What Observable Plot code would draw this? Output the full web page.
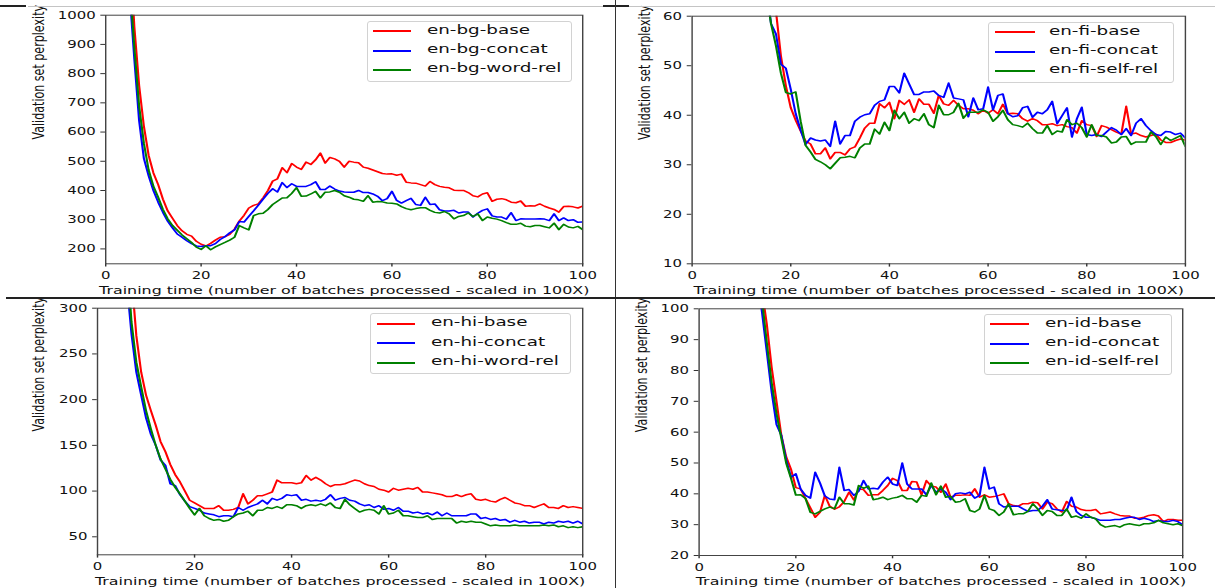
<!DOCTYPE html>
<html>
<head>
<meta charset="utf-8">
<script src="https://cdn.jsdelivr.net/npm/d3@7"></script>
<script src="https://cdn.jsdelivr.net/npm/@observablehq/plot@0.6"></script>
<style>
  html, body { margin: 0; padding: 0; background: #fff; }
  body { position: relative; width: 1215px; height: 588px; overflow: hidden; font-family: "DejaVu Sans", sans-serif; }
  .panel { position: absolute; }
  .deco { position: absolute; }
  .legend-box { position: absolute; box-sizing: border-box; background: rgba(255,255,255,0.9); border: 1px solid #d2d2d2; border-radius: 3px; }
  .legend-swatch { position: absolute; }
  .legend-text { position: absolute; white-space: nowrap; line-height: 1; color: #111; transform-origin: 0 0; font-family: "DejaVu Sans", sans-serif; }
</style>
</head>
<body>
<script>
// ---------------- data ----------------
const xTicks = [0, 20, 40, 60, 80, 100];
const xLabel = "Training time (number of batches processed - scaled in 100X)";
const yLabel = "Validation set perplexity";
const seriesColors = ["red", "blue", "green"];

// en-bg (x = 5 .. 100)
const bgStart = 5;
const bgNames = ["en-bg-base", "en-bg-concat", "en-bg-word-rel"];
const bgYTicks = [200, 300, 400, 500, 600, 700, 800, 900, 1000];
const bgBase = [1250, 960, 760, 620, 520, 460, 420, 370, 330, 305,
  280, 262, 250, 244, 226, 216, 210, 219, 230, 240,
  242, 250, 268, 295, 315, 340, 349, 354, 375, 400,
  432, 440, 478, 461, 492, 480, 472, 497, 489, 505,
  528, 494, 513, 508, 500, 480, 500, 497, 495, 480,
  476, 470, 464, 458, 456, 457, 452, 456, 428, 426,
  425, 420, 415, 431, 420, 414, 411, 409, 401, 400,
  400, 393, 382, 378, 388, 392, 363, 370, 372, 368,
  360, 358, 364, 346, 348, 347, 354, 346, 340, 335,
  326, 345, 346, 344, 340, 347];
const bgConcat = [1080, 850, 640, 510, 450, 400, 360, 325, 295, 272,
  251, 240, 228, 218, 210, 208, 211, 211, 218, 232,
  242, 255, 265, 294, 292, 311, 330, 350, 370, 390,
  406, 395, 427, 410, 423, 414, 414, 414, 420, 430,
  403, 403, 415, 405, 398, 395, 394, 394, 400, 393,
  393, 388, 380, 365, 372, 397, 366, 357, 365, 373,
  352, 349, 377, 352, 354, 334, 330, 330, 332, 323,
  326, 326, 309, 322, 332, 337, 313, 309, 309, 302,
  324, 297, 303, 302, 302, 302, 303, 302, 297, 320,
  297, 306, 297, 300, 291, 292];
const bgWordRel = [1120, 890, 690, 562, 470, 415, 377, 335, 303, 280,
  264, 248, 235, 222, 206, 198, 211, 197, 207, 215,
  222, 230, 240, 280, 272, 265, 314, 320, 322, 335,
  352, 363, 374, 375, 390, 410, 380, 381, 388, 397,
  375, 394, 395, 400, 394, 382, 377, 370, 368, 363,
  382, 360, 362, 361, 357, 356, 354, 345, 338, 334,
  338, 341, 341, 332, 325, 323, 328, 320, 303, 311,
  314, 323, 311, 320, 297, 309, 305, 302, 297, 290,
  284, 284, 288, 278, 276, 280, 280, 276, 272, 288,
  266, 284, 275, 272, 277, 266];

// en-fi (x = 15 .. 100)
const fiStart = 15;
const fiNames = ["en-fi-base", "en-fi-concat", "en-fi-self-rel"];
const fiYTicks = [10, 20, 30, 40, 50, 60];
const fiBase = [75, 68, 61, 52, 46, 41.5, 39, 36.8, 34.8, 34.2,
  32.2, 32.2, 33.4, 31.2, 32.5, 32.5, 32, 33.2, 33.6, 35.4,
  37.4, 38.4, 38.4, 42.3, 41.5, 42.6, 39.3, 43, 42.2, 43.1,
  40.6, 43.3, 42.2, 42.2, 40.4, 44, 42.3, 42, 43, 42,
  41.3, 41.3, 41, 40.3, 41, 40.4, 41.1, 40.3, 42.2, 40.3,
  40.4, 40.3, 39.3, 38.8, 39.3, 38.9, 38.1, 38.1, 38.3, 37.9,
  38.1, 37.7, 37.5, 36.4, 38.9, 38.1, 37.9, 35.7, 37.9, 37.6,
  37.1, 36.6, 36.2, 41.8, 36.2, 36.4, 35.9, 35.6, 35.9, 36.2,
  35, 34.5, 34.5, 34.9, 35.2, 35];
const fiConcat = [66, 58.5, 56.4, 50.3, 49.5, 45.2, 40.3, 37, 34.1, 35.4,
  35, 34.8, 35, 33.7, 38.8, 34.2, 35.9, 35.9, 38.8, 39.6,
  40.1, 40.3, 42, 42.8, 43.1, 45.8, 45.8, 44.5, 48.5, 46.3,
  44.2, 44.2, 44.7, 44.7, 44.9, 44, 43.6, 46.5, 43.5, 43.3,
  43.1, 39.7, 43.5, 41.1, 41.3, 45.7, 41.1, 44, 44.3, 40.3,
  39.7, 39.9, 41.5, 41.8, 39.6, 40.6, 40.3, 41.1, 42.8, 38.3,
  39.9, 41.5, 35.6, 39.3, 41.6, 36.1, 35.9, 36.1, 35.7, 36.6,
  37.5, 37, 36.1, 37.3, 35.9, 38.4, 39.3, 37.9, 36.9, 36.1,
  35.9, 36.7, 36.6, 36.1, 36.4, 35.4];
const fiSelfRel = [65, 58.5, 54, 48.5, 44.6, 44.3, 44.7, 38.8, 33.9, 32.6,
  31.1, 30.6, 30, 29.2, 30.3, 31.4, 31.5, 31.7, 31.4, 33.4,
  34.2, 34.2, 37.2, 36.2, 38.6, 36.9, 41, 39.3, 40.6, 38.4,
  39.3, 38.9, 40.3, 38.1, 37.5, 42, 40.1, 40.1, 40.6, 42.4,
  39.4, 40.6, 40.6, 40.6, 41.1, 40.6, 38.8, 39.7, 41, 39.1,
  38.1, 37.9, 37.6, 38.4, 37.3, 36.4, 36.4, 37.9, 36.1, 36.8,
  36.6, 39.1, 38.1, 38.4, 37.5, 35.6, 38.1, 35.9, 35.9, 35.6,
  34.4, 34.6, 35.6, 35.7, 34.1, 34.6, 34.6, 34.6, 36.6, 35.7,
  34.1, 35.6, 34.9, 35.4, 35.9, 33.7];

// en-hi (x = 6 .. 100)
const hiStart = 6;
const hiNames = ["en-hi-base", "en-hi-concat", "en-hi-word-rel"];
const hiYTicks = [50, 100, 150, 200, 250, 300];
const hiBase = [400, 335, 270, 230, 205, 188, 172, 154, 143, 129,
  118, 110, 100, 90, 87, 84, 81, 81, 81, 84,
  79, 79, 80, 82, 97, 86, 90, 95, 95, 97,
  99, 112, 109, 109, 109, 108, 109, 117, 112, 115,
  112, 108, 105, 107, 107, 108, 110, 112, 111, 108,
  106, 105, 102, 101, 99, 103, 101, 102, 103, 102,
  104, 99, 99, 98, 97, 96, 94, 94, 96, 94,
  96, 97, 91, 90, 91, 89, 88, 91, 93, 90,
  87, 86, 84, 84, 82, 84, 86, 82, 82, 81,
  84, 82, 83, 82, 81];
const hiConcat = [330, 272, 230, 205, 180, 162, 150, 134, 128, 108,
  106, 96, 89, 83, 81, 79, 76, 75, 74, 72,
  73, 73, 72, 82, 79, 82, 84, 86, 90, 86,
  92, 90, 92, 96, 95, 96, 90, 91, 89, 90,
  89, 91, 96, 90, 92, 93, 90, 89, 86, 84,
  85, 82, 84, 80, 81, 79, 82, 78, 78, 76,
  77, 75, 76, 74, 77, 73, 76, 73, 73, 73,
  73, 75, 75, 70, 71, 69, 70, 68, 69, 66,
  68, 66, 67, 65, 66, 66, 64, 66, 65, 67,
  66, 67, 65, 67, 64];
const hiWordRel = [360, 285, 241, 214, 188, 168, 150, 135, 124, 113,
  104, 97, 89, 81, 74, 81, 73, 70, 68, 69,
  67, 68, 72, 75, 76, 78, 73, 79, 79, 82,
  81, 83, 81, 85, 85, 84, 81, 84, 85, 84,
  86, 84, 87, 82, 81, 91, 85, 81, 77, 79,
  80, 79, 75, 84, 75, 76, 79, 73, 73, 72,
  71, 71, 73, 69, 70, 70, 70, 70, 65, 67,
  66, 67, 66, 66, 64, 62, 63, 62, 62, 62,
  63, 62, 62, 62, 62, 62, 63, 62, 63, 61,
  62, 60, 61, 60, 61];

// en-id (x = 12 .. 100)
const idStart = 12;
const idNames = ["en-id-base", "en-id-concat", "en-id-self-rel"];
const idYTicks = [20, 30, 40, 50, 60, 70, 80, 90, 100];
const idBase = [115, 106, 95, 81, 70, 59, 52, 48, 42, 41.6,
  38.5, 35.5, 32.4, 34, 39.5, 36, 35, 35.8, 37.5, 40.5,
  38, 41.6, 41.4, 39.5, 39.7, 39.7, 41.1, 42.7, 45, 44.3,
  41.1, 41.1, 44, 43.8, 39.7, 44.3, 42.5, 42.2, 40.5, 43.2,
  38.9, 39.5, 39.5, 39.7, 39.5, 41.6, 38.9, 39.7, 38.9, 39.1,
  39.5, 40, 36.8, 36.2, 36, 36.8, 36.8, 37.3, 37.1, 35.1,
  37.3, 36.8, 35.1, 34.1, 37.5, 36, 35.7, 34.9, 34.6, 34.6,
  34.9, 33.5, 33.8, 34.1, 33.5, 33, 32.8, 32.8, 32.1, 32.1,
  32.4, 33, 33.2, 32.8, 31, 31.7, 31.7, 31.4, 31.4];
const idConcat = [110, 99, 86, 73, 62.5, 59, 51, 45.4, 46.5, 41.5,
  39.5, 38.6, 47, 43.5, 39.3, 38.3, 38.1, 48.6, 41.1, 41.4,
  39.5, 40.8, 44.3, 41.6, 41.8, 41.6, 43.8, 45.4, 43.2, 42.7,
  50, 43.2, 41.6, 41.6, 41.6, 39.7, 42.7, 40.5, 41.6, 40.5,
  38.1, 40, 40.3, 40, 40.5, 38.6, 39.5, 48.6, 41.6, 42.2,
  36.8, 35.7, 36, 36, 36, 35.1, 34.3, 34.6, 34.6, 36,
  38.1, 35.1, 34.8, 34.6, 34.6, 38.9, 34.3, 33, 32.4, 32.4,
  31.9, 31.4, 31.4, 31.4, 31.7, 31.7, 32.1, 32.4, 32.4, 31.7,
  32.1, 31.7, 31, 31.4, 31, 31, 31.4, 31, 30];
const idSelfRel = [112, 103, 89, 76, 66, 58, 50, 45, 39.6, 39.7,
  38.5, 34, 33.5, 34.3, 35.1, 35.7, 35.2, 38.9, 36.8, 36.8,
  36.4, 42.7, 41.8, 42.5, 38.1, 38.4, 38.9, 38.1, 38.6, 38.9,
  39.5, 38.4, 38.4, 37.3, 39.5, 39.2, 43.5, 39.7, 42.5, 38.9,
  39.2, 37.3, 37.5, 38.4, 34.6, 34.1, 35.1, 39.5, 35.1, 34.6,
  33, 34.1, 36.8, 33.2, 33.5, 33.5, 34.3, 36.8, 35.1, 33,
  34.6, 34.3, 33, 33, 35.1, 32.4, 32.8, 32.1, 33.5, 32.4,
  31.9, 30, 29.2, 29.5, 29.7, 29.2, 30, 30.3, 30, 29.7,
  30.3, 30.3, 30.6, 31.4, 30.6, 30.3, 30, 30.3, 29.7];

// ---------------- layout (display pixels) ----------------
const S = 1.42; // horizontal stretch of the reference picture
const panels = [
  { start: bgStart, names: bgNames, series: [bgBase, bgConcat, bgWordRel], yDomain: [149, 1000], yTicks: bgYTicks,
    box: {left: 0, top: 0, w: 607, h: 297}, frame: {x0: 105, x1: 582, y0: 14.7, y1: 263.3}, yLabelX: 32.5, xLabelDy: 22.2,
    legend: {x: 366.6, y: 20.7, w: 205.4, h: 61.3, rows: [31.3, 50.7, 70], sw0: 373, sw1: 411, tx: 426.7} },
  { start: fiStart, names: fiNames, series: [fiBase, fiConcat, fiSelfRel], yDomain: [10, 60], yTicks: fiYTicks,
    box: {left: 612, top: 0, w: 603, h: 297}, frame: {x0: 691.4, x1: 1184.7, y0: 15.7, y1: 263.3}, yLabelX: 638, xLabelDy: 21.8,
    legend: {x: 988.3, y: 21.7, w: 186, h: 61, rows: [32.3, 51.7, 71], sw0: 995.3, sw1: 1035, tx: 1049.4} },
  { start: hiStart, names: hiNames, series: [hiBase, hiConcat, hiWordRel], yDomain: [30.3, 300], yTicks: hiYTicks,
    box: {left: 0, top: 297, w: 607, h: 291}, frame: {x0: 96.8, x1: 582, y0: 307.7, y1: 554.3}, yLabelX: 32.5, xLabelDy: 22.2,
    legend: {x: 370, y: 313.3, w: 201.4, h: 61, rows: [324, 343.3, 362.7], sw0: 377, sw1: 415.2, tx: 430.5} },
  { start: idStart, names: idNames, series: [idBase, idConcat, idSelfRel], yDomain: [20, 100], yTicks: idYTicks,
    box: {left: 612, top: 297, w: 603, h: 291}, frame: {x0: 698.4, x1: 1182, y0: 308.3, y1: 555}, yLabelX: 635, xLabelDy: 21.7,
    legend: {x: 984.4, y: 314, w: 187.6, h: 61, rows: [324.3, 343.7, 363], sw0: 990.2, sw1: 1029, tx: 1044.7} }
];

const tickFont = 10.5, labelFont = 11.2, legendFont = 12.9;

function addDiv(cls, css) {
  const d = document.createElement("div");
  d.className = cls;
  Object.assign(d.style, css);
  document.body.appendChild(d);
  return d;
}

for (const p of panels) {
  const {box, frame} = p;
  const data = p.series.map((vals, k) => vals.map((v, i) => ({x: p.start + i, y: v, s: p.names[k]})));
  const w = box.w / S;
  const svg = Plot.plot({
    width: w,
    height: box.h,
    marginLeft: (frame.x0 - box.left) / S,
    marginRight: (box.left + box.w - frame.x1) / S,
    marginTop: frame.y0 - box.top,
    marginBottom: box.top + box.h - frame.y1,
    x: {domain: [0, 100]},
    y: {domain: p.yDomain},
    style: {fontFamily: "DejaVu Sans", fontSize: tickFont + "px", color: "#111", background: "transparent", overflow: "visible"},
    marks: [
      ...data.map((d, k) => Plot.line(d, {x: "x", y: "y", stroke: seriesColors[k], strokeWidth: 1.5, clip: true})),
      Plot.axisX({ticks: xTicks, tickFormat: d => String(d), tickSize: 3.3, tickPadding: 4.4, label: null, stroke: "#333", fill: "#111"}),
      Plot.axisY({ticks: p.yTicks, tickFormat: d => String(d), tickSize: 3.3, tickPadding: 3.8, label: null, stroke: "#333", fill: "#111"}),
      Plot.frame({stroke: "#444", strokeWidth: 1}),
      Plot.text([xLabel], {text: d => d, frameAnchor: "bottom", lineAnchor: "top", dy: p.xLabelDy, fontSize: labelFont, fill: "#111"}),
      Plot.text([yLabel], {text: d => d, frameAnchor: "left", rotate: -90, lineAnchor: "top", dx: (p.yLabelX - frame.x0) / S, fontSize: 11.1, fill: "#111"})
    ]
  });
  svg.setAttribute("viewBox", `0 0 ${w} ${box.h}`);
  svg.setAttribute("width", box.w);
  svg.setAttribute("height", box.h);
  svg.setAttribute("preserveAspectRatio", "none");
  svg.style.width = box.w + "px";
  svg.style.height = box.h + "px";
  svg.style.maxWidth = "none";
  const holder = addDiv("panel", {left: box.left + "px", top: box.top + "px", width: box.w + "px", height: box.h + "px"});
  holder.appendChild(svg);

  // legend
  const L = p.legend;
  addDiv("legend-box", {left: L.x + "px", top: L.y + "px", width: L.w + "px", height: L.h + "px"});
  p.names.forEach((name, k) => {
    addDiv("legend-swatch", {left: Math.round(L.sw0) + "px", top: Math.round(L.rows[k] - 1) + "px", width: Math.round(L.sw1 - L.sw0) + "px", height: "2px", background: seriesColors[k]});
    const t = addDiv("legend-text", {left: L.tx + "px", top: (L.rows[k] - 0.586 * legendFont) + "px", fontSize: legendFont + "px", transform: `scaleX(${S})`});
    t.textContent = name;
  });
}

// page decorations (separator rules of the original figure)
addDiv("deco", {left: "28px", top: "6px", width: "1187px", height: "1px", background: "#c4c4c4"});
addDiv("deco", {left: "0px", top: "5px", width: "26px", height: "2px", background: "#222"});
addDiv("deco", {left: "603px", top: "5px", width: "26px", height: "2px", background: "#222"});
addDiv("deco", {left: "615px", top: "0px", width: "1px", height: "588px", background: "#333"});
addDiv("deco", {left: "6px", top: "297px", width: "1209px", height: "2px", background: "#222"});
</script>
</body>
</html>
